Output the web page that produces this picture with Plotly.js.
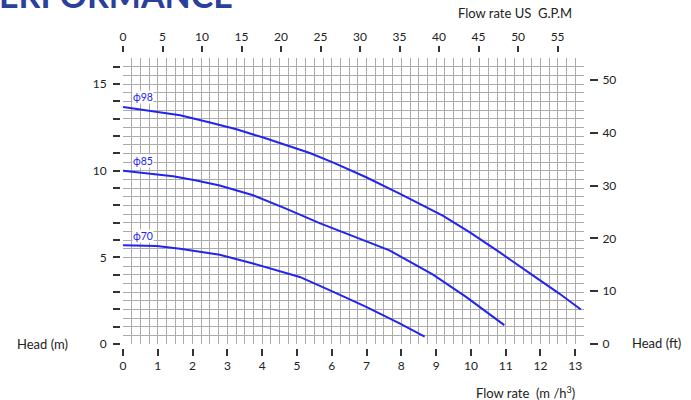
<!DOCTYPE html>
<html>
<head>
<meta charset="utf-8">
<script src="https://cdn.plot.ly/plotly-3.0.1.min.js"></script>
<style>html,body{margin:0;padding:0;background:#fff;}#chart{width:691px;height:400px;}</style>
</head>
<body>
<div id="chart"></div>
<script>
// Flow rate (m3/h) and head (m) for each impeller diameter
const phi98_q = [0, 0.78, 1.64, 2.5, 3.26, 4.03, 4.79, 5.37, 6.03, 6.51, 6.99, 7.95, 9.19, 9.96, 10.82, 11.77, 12.54, 13.16];
const phi98_h = [13.68, 13.45, 13.2, 12.78, 12.39, 11.91, 11.43, 11.02, 10.48, 10.06, 9.62, 8.68, 7.41, 6.45, 5.30, 3.97, 2.91, 1.99];
const phi85_q = [0, 0.78, 1.44, 2.11, 2.78, 3.74, 4.70, 5.65, 6.51, 7.66, 8.9, 9.86, 10.96];
const phi85_h = [10.0, 9.85, 9.68, 9.43, 9.14, 8.58, 7.80, 6.97, 6.28, 5.4, 4.02, 2.72, 1.09];
const phi70_q = [0, 0.97, 1.64, 2.3, 2.78, 3.74, 4.70, 5.08, 6.03, 6.99, 7.95, 8.67];
const phi70_h = [5.7, 5.65, 5.5, 5.31, 5.15, 4.64, 4.06, 3.87, 3.02, 2.14, 1.19, 0.42];
const curveLabels = ["\u03D598", "\u03D585", "\u03D570"];

// Tick labels
const flowTicks = [0,1,2,3,4,5,6,7,8,9,10,11,12,13];
const gpmTicks = [0,5,10,15,20,25,30,35,40,45,50,55];
const headMTicks = [0,1,2,3,4,5,6,7,8,9,10,11,12,13,14,15,16];
const headMText = ["0","","","","","5","","","","","10","","","","","15",""];
const headFtTicks = [0,10,20,30,40,50];

const xMax = 13.25, yMax = 16.5;
const FONT = "Lato, 'Open Sans', sans-serif";
const BLUE = "#2424f0";
const TXT = "#222";

function curve(q, h){
  return {x:q, y:h, xaxis:'x', yaxis:'y', type:'scatter', mode:'lines',
    line:{color:BLUE, width:2, shape:'linear'},
    hoverinfo:'skip', showlegend:false};
}
function axisHolder(xa, ya){
  return {x:[], y:[], xaxis:xa, yaxis:ya, type:'scatter', mode:'markers', hoverinfo:'skip', showlegend:false};
}
const traces = [curve(phi98_q, phi98_h), curve(phi85_q, phi85_h), curve(phi70_q, phi70_h),
  axisHolder('x2','y2'), axisHolder('x3','y3')];

const labelY = [phi98_h[0], phi85_h[0], phi70_h[0]];
const annotations = curveLabels.map((t,i)=>({
  text:t, x:0.57, y:labelY[i]+0.55, xref:'x', yref:'y', xanchor:'center', yanchor:'middle', showarrow:false,
  font:{family:FONT, size:10.5, color:BLUE}, bgcolor:'#fff', borderpad:0
}));
annotations.push(
  {text:'Head (m)', xref:'paper', yref:'paper', x:-0.166, y:0.0135, xanchor:'center', yanchor:'middle', showarrow:false, font:{family:FONT, size:13, color:TXT}},
  {text:'Head (ft)', xref:'paper', yref:'paper', x:1.143, y:0.017, xanchor:'center', yanchor:'middle', showarrow:false, font:{family:FONT, size:13, color:TXT}},
  {text:'Flow rate US  G.P.M', xref:'paper', yref:'paper', x:0.842, y:1.132, xanchor:'center', yanchor:'middle', showarrow:false, font:{family:FONT, size:13, color:TXT}},
  {text:'Flow rate  (m /h<sup>3</sup>)', xref:'paper', yref:'paper', x:0.864, y:-0.149, xanchor:'center', yanchor:'middle', showarrow:false, font:{family:FONT, size:13, color:TXT}},
  {text:'<b>PERFORMANCE</b>', xref:'paper', yref:'paper', x:0.2452, xanchor:'right', y:1.118, yanchor:'bottom', showarrow:false, font:{family:FONT, size:34, color:'#2b3f9d'}}
);

const dom = [0.0064, 0.9893];
const ydom = [0.0135, 0.9797];
const tickFont = {family:FONT, size:12, color:TXT};

const layout = {
  width:691, height:400,
  margin:{l:120, r:102, t:52, b:52},
  paper_bgcolor:'#fff', plot_bgcolor:'rgba(0,0,0,0)',
  showlegend:false,
  xaxis:{domain:dom, range:[0,xMax], anchor:'y', dtick:0.25, tick0:0, showgrid:true, gridcolor:'#ababab', gridwidth:1,
    showticklabels:false, ticks:'', zeroline:false, showline:false},
  yaxis:{domain:ydom, range:[0,yMax], anchor:'x', dtick:0.5, tick0:0, showgrid:true, gridcolor:'#ababab', gridwidth:1,
    showticklabels:false, ticks:'', zeroline:false, showline:false},
  xaxis3:{overlaying:'x', anchor:'free', position:0, side:'bottom', range:[0,xMax], tickmode:'array', tickvals:flowTicks,
    ticks:'outside', ticklen:7, tickwidth:2, tickcolor:'#333', showgrid:false, zeroline:false, showline:false, tickfont:tickFont},
  yaxis3:{overlaying:'y', anchor:'free', position:1, side:'right', range:[0,yMax*3.281], tickmode:'array', tickvals:headFtTicks,
    ticks:'outside', ticklen:8, tickwidth:2, tickcolor:'#333', showgrid:false, zeroline:false, showline:false, tickfont:tickFont, ticklabelstandoff:2},
  xaxis2:{overlaying:'x', anchor:'free', position:1, side:'top', range:[0,xMax*4.403], tickmode:'array', tickvals:gpmTicks,
    ticks:'outside', ticklen:6, tickwidth:2, tickcolor:'#333', showgrid:false, zeroline:false, showline:false, tickfont:tickFont},
  yaxis2:{overlaying:'y', anchor:'free', position:0, side:'left', range:[0,yMax], tickmode:'array', tickvals:headMTicks, ticktext:headMText,
    ticks:'outside', ticklen:7, tickwidth:2, tickcolor:'#333', showgrid:false, zeroline:false, showline:false, tickfont:tickFont, ticklabelstandoff:4},
  annotations:annotations
};

Plotly.newPlot('chart', traces, layout, {staticPlot:true, displayModeBar:false});
</script>
</body>
</html>
